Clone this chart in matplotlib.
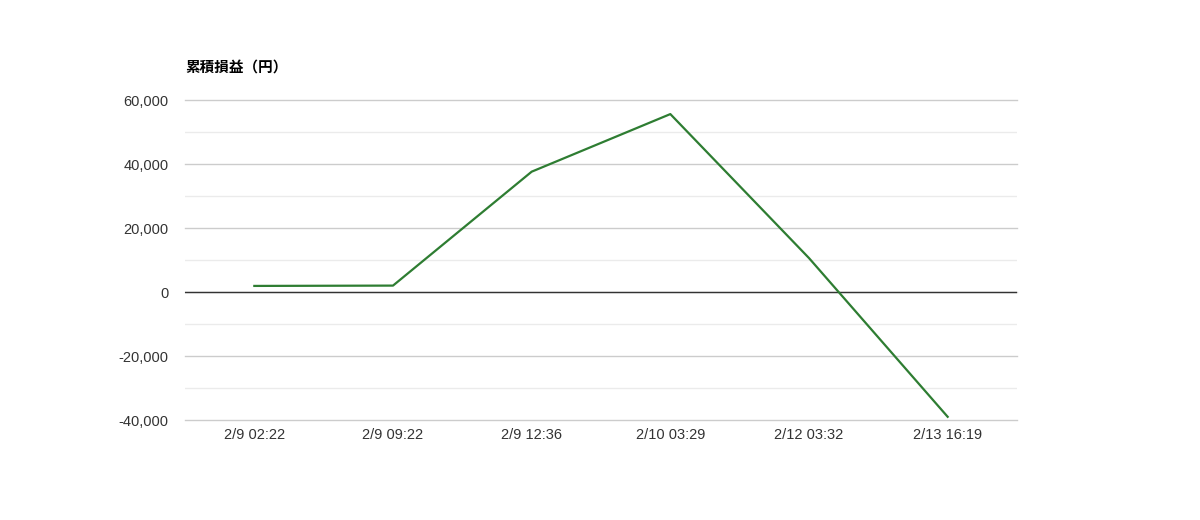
import matplotlib
matplotlib.use('Agg')
import matplotlib.pyplot as plt
from matplotlib.ticker import FuncFormatter, MultipleLocator

plt.rcParams['font.family'] = ['Liberation Sans', 'Noto Sans CJK JP', 'DejaVu Sans']

# data
timeLabels = ['2/9 02:22', '2/9 09:22', '2/9 12:36', '2/10 03:29', '2/12 03:32', '2/13 16:19']
cumulativePnl = [1900, 2000, 37600, 55600, 10600, -39000]
title = '累積損益（円）'

fig = plt.figure(figsize=(12, 5.2), dpi=100)
ax = fig.add_axes([185 / 1200, 1 - 420 / 520, 832 / 1200, 320 / 520])

xs = list(range(len(timeLabels)))
ax.plot(xs, cumulativePnl, color='#2e7d32', linewidth=1.6, zorder=3)

ax.set_xlim(-0.5, len(timeLabels) - 0.5)
ax.set_ylim(-40000, 60000)
ax.yaxis.set_major_locator(MultipleLocator(20000))
ax.yaxis.set_minor_locator(MultipleLocator(10000))
ax.yaxis.set_major_formatter(FuncFormatter(lambda v, p: f'{int(v):,}'))
ax.set_xticks(xs)
ax.set_xticklabels(timeLabels)

# gridlines
ax.grid(True, axis='y', which='minor', color='#ebebeb', linewidth=1)
ax.grid(True, axis='y', which='major', color='#cccccc', linewidth=1)
for gl in ax.yaxis.get_gridlines():
    gl.set_clip_on(False)
ax.axhline(0, color='#333333', linewidth=1, zorder=2)
ax.set_axisbelow(True)

for side in ['top', 'right', 'left', 'bottom']:
    ax.spines[side].set_visible(False)
ax.tick_params(axis='both', which='both', length=0, labelsize=10.5)
ax.tick_params(axis='y', pad=12)
ax.tick_params(axis='x', pad=6)
for lbl in ax.get_xticklabels() + ax.get_yticklabels():
    lbl.set_color('#333333')

fig.text(185 / 1200, 1 - 68 / 520, title, fontsize=10.5, fontweight='bold',
         family=['Noto Sans CJK JP', 'DejaVu Sans'], ha='left', va='center', color='#000000')

plt.savefig('out.png', dpi=100)
